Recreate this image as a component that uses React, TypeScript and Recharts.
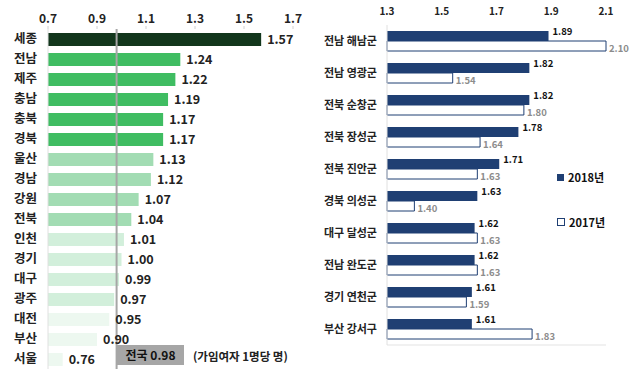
import { Bar, BarChart, Cell, LabelList, Legend, ReferenceLine, XAxis, YAxis } from "recharts"

const regions = ["세종", "전남", "제주", "충남", "충북", "경북", "울산", "경남", "강원", "전북", "인천", "경기", "대구", "광주", "대전", "부산", "서울"]
const regionValues = [1.57, 1.24, 1.22, 1.19, 1.17, 1.17, 1.13, 1.12, 1.07, 1.04, 1.01, 1.0, 0.99, 0.97, 0.95, 0.9, 0.76]
const regionColors = [
  "#12361c",
  "#3fbd62", "#3fbd62", "#3fbd62", "#3fbd62", "#3fbd62",
  "#a2dcb3", "#a2dcb3", "#a2dcb3", "#a2dcb3",
  "#d2efdb", "#d2efdb", "#d2efdb", "#d2efdb",
  "#edf8f0", "#edf8f0", "#edf8f0",
]
const leftTicks = [0.7, 0.9, 1.1, 1.3, 1.5, 1.7]
const nationalAvg = 0.98

const counties = ["전남 해남군", "전남 영광군", "전북 순창군", "전북 장성군", "전북 진안군", "경북 의성군", "대구 달성군", "전남 완도군", "경기 연천군", "부산 강서구"]
const values2018 = [1.89, 1.82, 1.82, 1.78, 1.71, 1.63, 1.62, 1.62, 1.61, 1.61]
const values2017 = [2.1, 1.54, 1.8, 1.64, 1.63, 1.4, 1.63, 1.63, 1.59, 1.83]
const rightTicks = [1.3, 1.5, 1.7, 1.9, 2.1]

const leftData = regions.map((name, i) => ({ name, value: regionValues[i] }))
const rightData = counties.map((name, i) => ({ name, y2018: values2018[i], y2017: values2017[i] }))

const font = "'Noto Sans CJK KR', 'Noto Sans', sans-serif"
const navy = "#1f3f73"
const fmt = (v: any) => Number(v).toFixed(2)

// plain svg text so the labels never wrap
function CatTick({ y, payload, size, right }: any) {
  return (
    <text x={right} y={y} dy="0.35em" textAnchor="end" fontSize={size} fontWeight={700} fill="#222" fontFamily={font}>
      {payload.value}
    </text>
  )
}

function RightLegend() {
  return (
    <div style={{ position: "absolute", left: 237, top: 169, whiteSpace: "nowrap", fontFamily: font, fontWeight: 700, fontSize: 11, color: "#111" }}>
      <div style={{ display: "flex", alignItems: "center", height: 16 }}>
        <span style={{ width: 7, height: 7, background: navy, marginRight: 4 }} />
        2018년
      </div>
      <div style={{ display: "flex", alignItems: "center", height: 16, marginTop: 29 }}>
        <span style={{ width: 6, height: 6, border: `1px solid ${navy}`, marginRight: 4 }} />
        2017년
      </div>
    </div>
  )
}

export default function App() {
  return (
    <div style={{ position: "absolute", left: 0, top: 0, width: 640, height: 385, background: "#fff", fontFamily: font }}>
      <div style={{ position: "absolute", left: 0, top: 0 }}>
        <BarChart width={320} height={385} data={leftData} layout="vertical" margin={{ top: 4, right: 27, bottom: 16, left: 0 }}>
          <XAxis
            type="number"
            orientation="top"
            domain={[0.7, 1.7]}
            ticks={leftTicks}
            height={25}
            tickFormatter={(v) => String(v)}
            tick={{ fontSize: 12, fontWeight: 700, fill: "#222", fontFamily: font }}
            axisLine={false}
            tickLine={{ stroke: "#d0d0d0" }}
            tickSize={3}
            tickMargin={3}
          />
          <YAxis
            type="category"
            dataKey="name"
            width={48}
            interval={0}
            tick={<CatTick size={12.5} right={37} />}
            axisLine={{ stroke: "#e0e0e0" }}
            tickLine={false}
          />
          <Bar dataKey="value" barSize={13} isAnimationActive={false}>
            {leftData.map((d, i) => (
              <Cell key={d.name} fill={regionColors[i]} />
            ))}
            <LabelList dataKey="value" position="right" offset={6} formatter={fmt} style={{ fontSize: 12.5, fontWeight: 700, fill: "#222", fontFamily: font }} />
          </Bar>
          <ReferenceLine x={nationalAvg} stroke="#a6a6a6" strokeWidth={2} />
        </BarChart>
      </div>
      <div
        style={{
          position: "absolute", left: 117, top: 345, width: 67, height: 20, background: "#a6a6a6",
          fontSize: 12, fontWeight: 700, color: "#111", lineHeight: "20px", textAlign: "center",
        }}
      >
        전국 0.98
      </div>
      <div style={{ position: "absolute", left: 193, top: 347, fontSize: 11.5, fontWeight: 700, color: "#222", lineHeight: "18px" }}>
        (가임여자 1명당 명)
      </div>

      <div style={{ position: "absolute", left: 320, top: 0 }}>
        <BarChart width={320} height={385} data={rightData} layout="vertical" barGap={0} margin={{ top: 2, right: 34, bottom: 20, left: 0 }}>
          <XAxis
            type="number"
            orientation="top"
            domain={[1.3, 2.1]}
            ticks={rightTicks}
            height={23}
            tickFormatter={(v) => String(v)}
            tick={{ fontSize: 10, fontWeight: 700, fill: "#222", fontFamily: font }}
            axisLine={false}
            tickLine={false}
            tickMargin={4}
          />
          <XAxis
            xAxisId="bottom"
            type="number"
            orientation="bottom"
            domain={[1.3, 2.1]}
            ticks={rightTicks}
            height={20}
            tick={false}
            axisLine={{ stroke: "#e3e3e3" }}
            tickLine={{ stroke: "#e3e3e3" }}
            tickSize={4}
          />
          <YAxis
            type="category"
            dataKey="name"
            width={67}
            interval={0}
            tick={<CatTick size={11} right={57} />}
            axisLine={{ stroke: "#e0e0e0" }}
            tickLine={false}
          />
          <Legend
            layout="horizontal"
            verticalAlign="middle"
            align="center"
            wrapperStyle={{ position: "absolute", left: 0, top: 0, width: 0, height: 0 }}
            content={() => <RightLegend />}
          />
          <Bar dataKey="y2018" name="2018년" fill={navy} barSize={10} isAnimationActive={false}>
            <LabelList dataKey="y2018" position="right" offset={4} dy={-4} formatter={fmt} style={{ fontSize: 9.5, fontWeight: 700, fill: "#111", fontFamily: font }} />
          </Bar>
          <Bar dataKey="y2017" name="2017년" fill="#fff" stroke={navy} strokeWidth={1} barSize={10} isAnimationActive={false}>
            <LabelList dataKey="y2017" position="right" offset={3} dy={3} formatter={fmt} style={{ fontSize: 9.5, fontWeight: 700, fill: "#8c8c8c", fontFamily: font }} />
          </Bar>
        </BarChart>
      </div>
    </div>
  )
}
